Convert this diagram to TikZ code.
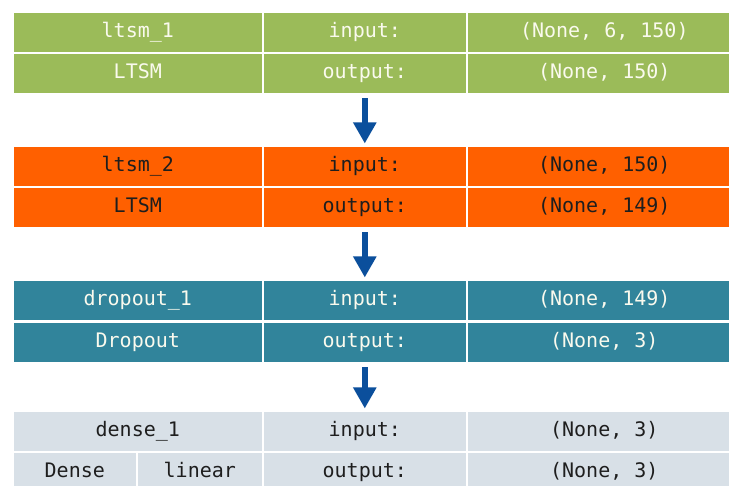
\documentclass[tikz,border=0pt]{standalone}
\usepackage{fontspec}
\setmonofont{DejaVu Sans Mono}
\usetikzlibrary{arrows.meta}

\definecolor{layergreen}{HTML}{9BBB59}
\definecolor{layerorange}{HTML}{FF6000}
\definecolor{layerteal}{HTML}{31849B}
\definecolor{layergray}{HTML}{D8E0E7}
\definecolor{lighttext}{HTML}{FAFAEE}
\definecolor{darktext}{HTML}{1E1E1E}
\definecolor{flowblue}{HTML}{0B4F9C}

\tikzset{
  cell/.style={draw=white, line width=1.6pt, inner sep=0pt, anchor=north west,
    minimum height=41pt, text height=14pt, text depth=4pt,
    font=\ttfamily\fontsize{20}{24}\selectfont},
  flow/.style={draw=flowblue, line width=6pt,
    -{Triangle[width=22pt,length=21pt]}, shorten <=3.5pt, shorten >=1.5pt}
}

% one row of a layer table: name, top y, fill, text colour, three cell texts
\newcommand\cellrow[7]{%
  \node[cell, fill=#3, text=#4, minimum width=250pt] (#1a) at (12,#2) {#5};
  \node[cell, fill=#3, text=#4, minimum width=204pt] (#1b) at (262,#2) {#6};
  \node[cell, fill=#3, text=#4, minimum width=275pt] (#1c) at (466,#2) {#7};
}

\begin{document}
\begin{tikzpicture}[x=1pt, y=-1pt]
  \useasboundingbox (0,0) rectangle (729,486);
  \fill[white] (0,0) rectangle (729,486);
  \clip (0,0) rectangle (729,486);

  % ltsm_1
  \cellrow{l1in}{11}{layergreen}{lighttext}{ltsm\_1}{input:}{(None, 6, 150)}
  \cellrow{l1out}{52}{layergreen}{lighttext}{LTSM}{output:}{(None, 150)}

  % ltsm_2
  \cellrow{l2in}{145}{layerorange}{darktext}{ltsm\_2}{input:}{(None, 150)}
  \cellrow{l2out}{186}{layerorange}{darktext}{LTSM}{output:}{(None, 149)}

  % dropout_1
  \cellrow{l3in}{279}{layerteal}{lighttext}{dropout\_1}{input:}{(None, 149)}
  \cellrow{l3out}{321}{layerteal}{lighttext}{Dropout}{output:}{(None, 3)}

  % dense_1
  \cellrow{l4in}{410}{layergray}{darktext}{dense\_1}{input:}{(None, 3)}
  \node[cell, fill=layergray, text=darktext, minimum width=124pt] (l4outa) at (12,451) {Dense};
  \node[cell, fill=layergray, text=darktext, minimum width=126pt] (l4outk) at (136,451) {linear};
  \node[cell, fill=layergray, text=darktext, minimum width=204pt] (l4outb) at (262,451) {output:};
  \node[cell, fill=layergray, text=darktext, minimum width=275pt] (l4outc) at (466,451) {(None, 3)};

  % data flow between layers
  \draw[flow] (l1outb.south) -- (l2inb.north);
  \draw[flow] (l2outb.south) -- (l3inb.north);
  \draw[flow] (l3outb.south) -- (l4inb.north);
\end{tikzpicture}
\end{document}
